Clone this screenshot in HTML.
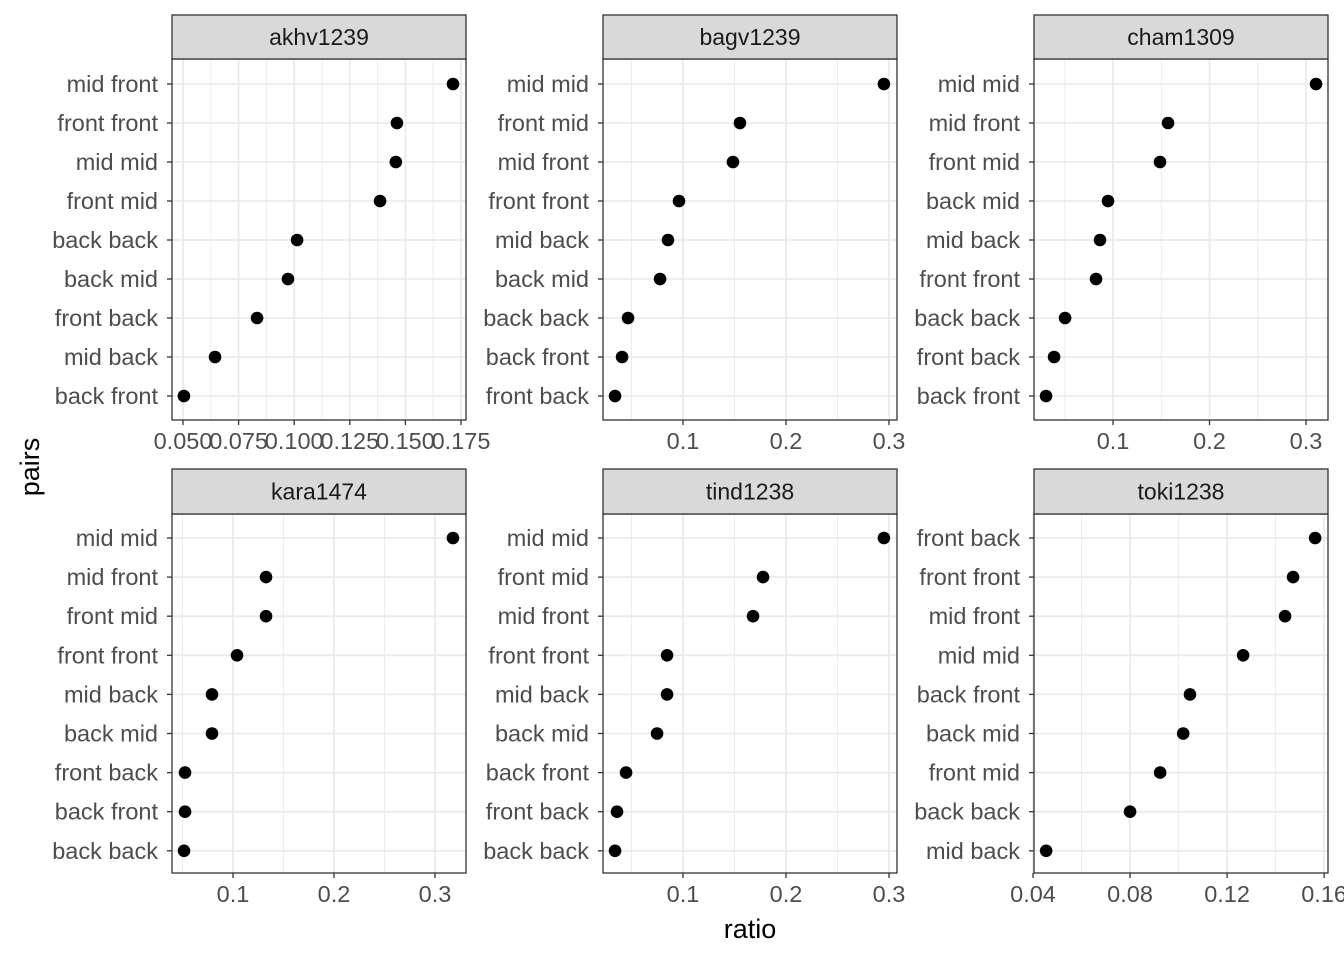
<!DOCTYPE html>
<html><head><meta charset="utf-8"><style>
html,body{margin:0;padding:0;background:#fff}
svg{display:block;font-family:"Liberation Sans",Arial,sans-serif}
</style></head><body>
<svg id="chart" width="1344" height="960" viewBox="0 0 1344 960">
<text x="750" y="938" font-size="27" text-anchor="middle">ratio</text>
<text transform="translate(39,467) rotate(-90)" font-size="27" text-anchor="middle">pairs</text>
</svg>
<script>
const panelNames = ["akhv1239","bagv1239","cham1309","kara1474","tind1238","toki1238"];
const cats1 = ["mid front","front front","mid mid","front mid","back back","back mid","front back","mid back","back front"];
const vals1 = [0.1714,0.1462,0.1457,0.1386,0.1013,0.0972,0.0833,0.0644,0.0504];
const cats2 = ["mid mid","front mid","mid front","front front","mid back","back mid","back back","back front","front back"];
const vals2 = [0.2951,0.1553,0.1485,0.0961,0.0854,0.0777,0.0466,0.0408,0.0340];
const cats3 = ["mid mid","mid front","front mid","back mid","mid back","front front","back back","front back","back front"];
const vals3 = [0.3104,0.1570,0.1487,0.0948,0.0865,0.0824,0.0503,0.0389,0.0306];
const cats4 = ["mid mid","mid front","front mid","front front","mid back","back mid","front back","back front","back back"];
const vals4 = [0.3178,0.1327,0.1327,0.1040,0.0792,0.0792,0.0525,0.0525,0.0515];
const cats5 = ["mid mid","front mid","mid front","front front","mid back","back mid","back front","front back","back back"];
const vals5 = [0.2951,0.1777,0.1680,0.0845,0.0845,0.0748,0.0447,0.0359,0.0340];
const cats6 = ["front back","front front","mid front","mid mid","back front","back mid","front mid","back back","mid back"];
const vals6 = [0.1563,0.1472,0.1439,0.1266,0.1047,0.1019,0.0924,0.0800,0.0454];
const ticks1 = [0.05,0.075,0.1,0.125,0.15,0.175];
const tickLabels1 = ["0.050","0.075","0.100","0.125","0.150","0.175"];
const ticksB = [0.1,0.2,0.3];
const tickLabelsB = ["0.1","0.2","0.3"];
const ticks6 = [0.04,0.08,0.12,0.16];
const tickLabels6 = ["0.04","0.08","0.12","0.16"];
const domains = [[0.04505,0.17725],[0.0223,0.3078],[0.0181,0.3228],[0.0396,0.3307],[0.0223,0.3078],[0.0404,0.1616]];

const allCats=[cats1,cats2,cats3,cats4,cats5,cats6];
const allVals=[vals1,vals2,vals3,vals4,vals5,vals6];
const allTicks=[ticks1,ticksB,ticksB,ticksB,ticksB,ticks6];
const allTickLabels=[tickLabels1,tickLabelsB,tickLabelsB,tickLabelsB,tickLabelsB,tickLabels6];
const svg=document.getElementById('chart');
const NS='http://www.w3.org/2000/svg';
function mk(tag,attrs,parent){const e=document.createElementNS(NS,tag);for(const k in attrs)e.setAttribute(k,attrs[k]);(parent||svg).appendChild(e);return e;}
const colsX=[172,603,1034], W=294;
const rows=[{st:15,top:59,bot:420,y0:84,dy:39},{st:469,top:514,bot:873,y0:538,dy:39.1}];
for(let p=0;p<6;p++){
  const L=colsX[p%3], R=L+W, r=rows[Math.floor(p/3)];
  const [d0,d1]=domains[p];
  const xs=v=>L+(v-d0)/(d1-d0)*W;
  const ys=i=>r.y0+i*r.dy;
  const g=mk('g',{});
  
  
  const bg=mk('rect',{x:L,y:r.top,width:W,height:r.bot-r.top,fill:'#fff'},g);
  
  
  const ticks=allTicks[p];
  const step=ticks[1]-ticks[0];
  for(let t=ticks[0]-step/2;t<=d1;t+=step){ if(t<d0)continue;
    const l=mk('line',{x1:xs(t),x2:xs(t),y1:r.top,y2:r.bot,stroke:'#ebebeb','stroke-width':0.9},g);
    
    
  }
  ticks.forEach(t=>{const l=mk('line',{x1:xs(t),x2:xs(t),y1:r.top,y2:r.bot,stroke:'#ebebeb','stroke-width':1.8},g);
    
    });
  allCats[p].forEach((c,i)=>{const l=mk('line',{x1:L,x2:R,y1:ys(i),y2:ys(i),stroke:'#ebebeb','stroke-width':1.8},g);
    
    });
  const bd=mk('rect',{x:L,y:r.top,width:W,height:r.bot-r.top,fill:'none',stroke:'#333','stroke-width':1.3},g);
  
  
  const sr=mk('rect',{x:L,y:r.st,width:W,height:r.top-r.st,fill:'#d9d9d9',stroke:'#333','stroke-width':1.3},g);
  
  
  const stx=mk('text',{x:L+W/2,y:(r.st+r.top)/2+8,'font-size':23,'text-anchor':'middle',fill:'#1a1a1a'},g);
  stx.textContent=panelNames[p];
  
  
  allCats[p].forEach((c,i)=>{
    const tk=mk('line',{x1:L-5,x2:L,y1:ys(i),y2:ys(i),stroke:'#333','stroke-width':1.3},g);
    
    
    const t=mk('text',{x:L-14,y:ys(i)+8,'font-size':23.5,'text-anchor':'end',fill:'#4d4d4d'},g);
    t.textContent=c;
    
    
    const pt=mk('circle',{cx:xs(allVals[p][i]),cy:ys(i),r:6.3,fill:'#000'},g);
    
    
  });
  ticks.forEach((t,i)=>{
    const tk=mk('line',{x1:xs(t),x2:xs(t),y1:r.bot,y2:r.bot+5,stroke:'#333','stroke-width':1.3},g);
    
    
    const tx=mk('text',{x:xs(t),y:r.bot+29,'font-size':23.5,'text-anchor':'middle',fill:'#4d4d4d'},g);
    tx.textContent=allTickLabels[p][i];
    
    
  });
}
</script>
</body></html>
